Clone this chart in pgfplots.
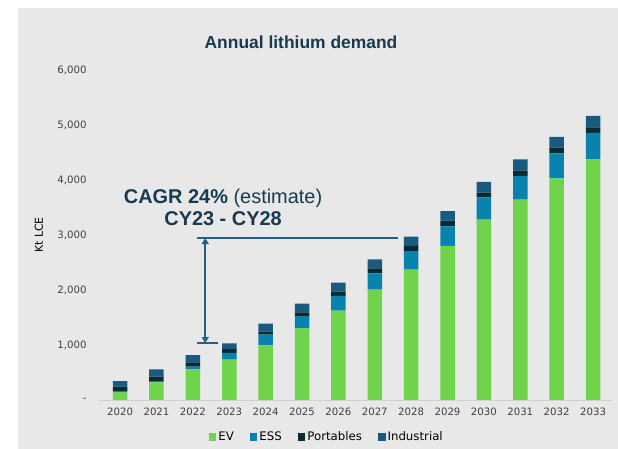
\documentclass[border=0pt]{standalone}
\usepackage{pgfplots}
\pgfplotsset{compat=1.18}
\usepackage{pgfplotstable}
\usepackage{fontspec}
\setmainfont{Liberation Sans}
\newfontfamily\dejavu{DejaVu Sans}
\usetikzlibrary{arrows.meta}
\definecolor{bgcol}{RGB}{232,232,232}
\definecolor{evcol}{RGB}{111,212,75}
\definecolor{esscol}{RGB}{8,131,174}
\definecolor{portcol}{RGB}{10,42,50}
\definecolor{indcol}{RGB}{27,90,128}
\definecolor{navy}{RGB}{24,58,80}
\definecolor{arrowcol}{RGB}{36,96,128}
\definecolor{tickcol}{RGB}{64,64,64}
\definecolor{axcol}{RGB}{208,208,208}

\pgfplotstableread{
year EV ESS Port Ind
2020 139 25 78 103
2021 321 24 79 134
2022 558 48 79 133
2023 733 122 72 103
2024 994 194 54 146
2025 1303 224 67 157
2026 1624 267 79 163
2027 2006 297 91 163
2028 2370 339 91 170
2029 2800 358 103 175
2030 3279 406 85 194
2031 3642 431 97 206
2032 4030 455 103 194
2033 4376 479 103 206
}\datatable

\begin{document}
\begin{tikzpicture}[x=1bp,y=1bp]
\useasboundingbox (0,0) rectangle (618,449);
\fill[bgcol] (18,0) rectangle (618,441);
\begin{axis}[
  at={(99bp,49bp)}, anchor=origin,
  scale only axis, width=513bp, height=330bp,
  xmin=2019.42, xmax=2033.52, ymin=0, ymax=6000,
  ybar stacked, bar width=14.5bp,
  axis x line*=bottom, axis y line*=left,
  y axis line style={draw=none},
  x axis line style={draw=axcol, line width=0.8bp, -},
  major tick length=0pt,
  xtick={2020,...,2033},
  xticklabels={2020,2021,2022,2023,2024,2025,2026,2027,2028,2029,2030,2031,2032,2033},
  ytick={0,1000,2000,3000,4000,5000,6000},
  yticklabels={{-},{1,000},{2,000},{3,000},{4,000},{5,000},{6,000}},
  tick label style={font=\dejavu\fontsize{10.2}{12}\selectfont, text=tickcol},
  xticklabel style={yshift=-4bp},
  yticklabel style={xshift=-9bp},
  ylabel={Kt LCE},
  ylabel style={at={(axis description cs:-0.117,0.5)}, anchor=center, font=\dejavu\fontsize{11}{12}\selectfont, text=black},
  legend style={at={(axis description cs:0.444,-0.112)}, anchor=center, draw=none, fill=none,
    legend columns=-1, font=\dejavu\fontsize{11.8}{13}\selectfont, text=black,
    /tikz/every even column/.append style={column sep=14bp}},
  legend image code/.code={\fill[#1] (0bp,-3.8bp) rectangle (7.6bp,3.8bp);},
  clip=false,
]
\addplot[fill=evcol, draw=none] table[x=year,y=EV]{\datatable};
\addplot[fill=esscol, draw=none] table[x=year,y=ESS]{\datatable};
\addplot[fill=portcol, draw=none] table[x=year,y=Port]{\datatable};
\addplot[fill=indcol, draw=none] table[x=year,y=Ind]{\datatable};
\legend{EV,ESS,Portables,Industrial}
\draw[arrowcol, line width=1.3bp] (axis cs:2022.12,2945) -- (axis cs:2027.64,2945);
\draw[arrowcol, line width=1.3bp] (axis cs:2022.12,1036) -- (axis cs:2022.7,1036);
\draw[arrowcol, line width=2bp, {Triangle[length=6bp,width=7bp]}-{Triangle[length=6bp,width=7bp]}] (axis cs:2022.34,1036) -- (axis cs:2022.34,2945);
\node[text=navy, font=\fontsize{20}{23}\selectfont] at (axis cs:2022.83,3673) {\textbf{CAGR 24\%} (estimate)};
\node[text=navy, font=\bfseries\fontsize{20}{23}\selectfont] at (axis cs:2022.83,3291) {CY23 - CY28};
\end{axis}
\node[text=navy, font=\bfseries\fontsize{17.5}{20}\selectfont] at (301,407) {Annual lithium demand};
\end{tikzpicture}
\end{document}
